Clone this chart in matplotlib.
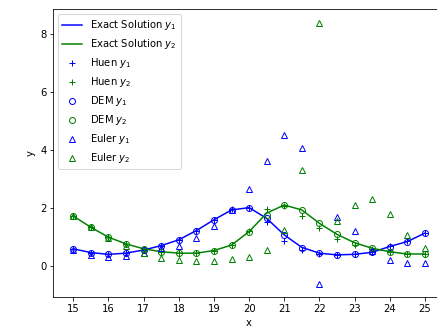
import numpy as np
import matplotlib
matplotlib.use("Agg")
import matplotlib.pyplot as plt

# grade de tempo (passo 0.5)
t = np.arange(15.0, 25.01, 0.5)

# solucao exata
y1_exata = [0.59, 0.46, 0.40, 0.44, 0.55, 0.70, 0.90, 1.22, 1.59, 1.93, 2.01,
            1.64, 1.07, 0.64, 0.44, 0.38, 0.40, 0.47, 0.67, 0.84, 1.13]
y2_exata = [1.72, 1.33, 0.99, 0.76, 0.59, 0.49, 0.44, 0.44, 0.53, 0.72, 1.18,
            1.82, 2.10, 1.93, 1.47, 1.09, 0.80, 0.61, 0.49, 0.41, 0.41]

# metodo de Huen
y1_huen = [0.59, 0.46, 0.40, 0.44, 0.55, 0.70, 0.90, 1.22, 1.59, 1.95, 2.01,
           1.50, 0.87, 0.55, 0.42, 0.38, 0.40, 0.48, 0.68, 0.86, 1.15]
y2_huen = [1.72, 1.33, 0.99, 0.76, 0.59, 0.49, 0.44, 0.44, 0.53, 0.72, 1.22,
           1.97, 2.08, 1.72, 1.30, 0.93, 0.72, 0.58, 0.48, 0.41, 0.41]

# DEM
y1_dem = [0.59, 0.46, 0.40, 0.44, 0.55, 0.70, 0.90, 1.22, 1.59, 1.93, 2.01,
          1.66, 1.07, 0.62, 0.44, 0.38, 0.40, 0.47, 0.66, 0.84, 1.13]
y2_dem = [1.72, 1.33, 0.99, 0.76, 0.59, 0.49, 0.44, 0.44, 0.53, 0.72, 1.18,
          1.75, 2.10, 1.93, 1.47, 1.09, 0.80, 0.61, 0.49, 0.41, 0.41]

# metodo de Euler
y1_euler = [0.55, 0.38, 0.32, 0.34, 0.44, 0.61, 0.69, 0.95, 1.36, 1.93, 2.66,
            3.63, 4.52, 4.08, -0.62, 1.68, 1.22, 0.50, 0.21, 0.11, 0.11]
y2_euler = [1.72, 1.33, 0.95, 0.67, 0.46, 0.29, 0.22, 0.17, 0.17, 0.23, 0.32,
            0.55, 1.24, 3.31, 8.36, 1.56, 2.10, 2.31, 1.79, 1.07, 0.61]

plt.rcParams["font.size"] = 10

fig = plt.figure(figsize=(437 / 72, 330 / 72), dpi=72)
ax = fig.add_axes([0.122, 0.101, 0.896, 0.871])

ax.plot(t, y1_exata, "b-", lw=1.5, label="Exact Solution $y_1$")
ax.plot(t, y2_exata, "g-", lw=1.5, label="Exact Solution $y_2$")
ax.plot(t, y1_huen, "b+", ms=6, label="Huen $y_1$")
ax.plot(t, y2_huen, "g+", ms=6, label="Huen $y_2$")
ax.plot(t, y1_dem, "bo", mfc="none", ms=6, label="DEM $y_1$")
ax.plot(t, y2_dem, "go", mfc="none", ms=6, label="DEM $y_2$")
ax.plot(t, y1_euler, "b^", mfc="none", ms=6, label="Euler $y_1$")
ax.plot(t, y2_euler, "g^", mfc="none", ms=6, label="Euler $y_2$")

ax.set_xlim(14.43, 25.57)
ax.set_ylim(-1.06, 8.85)
ax.set_xticks(np.arange(15, 26, 1))
ax.set_yticks([0, 2, 4, 6, 8])
ax.set_xlabel("x")
ax.set_ylabel("y")
ax.legend(loc="upper left")

fig.savefig("out.png", dpi=72)
